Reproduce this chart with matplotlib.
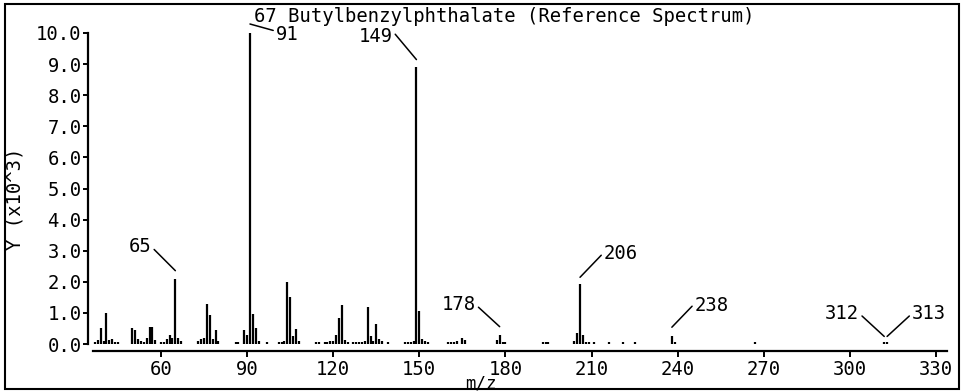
import matplotlib
matplotlib.use('Agg')
import matplotlib.pyplot as plt
from matplotlib.patches import Rectangle
import numpy as np

# spectrum of butylbenzylphthalate, intensity in units of 10^3
mz = [37, 38, 39, 40, 41, 42, 43, 44, 45,
      50, 51, 52, 53, 54, 55, 56, 57, 58, 60, 61,
      62, 63, 64, 65, 66, 67,
      73, 74, 75, 76, 77, 78, 79, 80,
      86, 87, 89, 90, 91, 92, 93, 94, 97, 101,
      102, 103, 104, 105, 106, 107, 108,
      114, 115, 117, 118, 119, 120, 121, 122, 123, 124, 125, 127, 128,
      129, 130, 131, 132, 133, 134, 135, 136, 137, 139,
      145, 146, 147, 148, 149, 150, 151, 152, 153,
      160, 161, 162, 163, 165, 166,
      177, 178, 179, 180,
      193, 194, 195,
      204, 205, 206, 207, 208, 209, 211,
      216, 221, 225, 238, 239, 267, 312, 313]
intensity = [0.06, 0.12, 0.5, 0.1, 1.0, 0.12, 0.15, 0.06, 0.05,
             0.5, 0.45, 0.15, 0.1, 0.06, 0.2, 0.55, 0.55, 0.12, 0.06, 0.05,
             0.15, 0.28, 0.2, 2.1, 0.2, 0.1,
             0.1, 0.15, 0.18, 1.3, 0.93, 0.15, 0.45, 0.1,
             0.06, 0.06, 0.45, 0.3, 10.0, 0.95, 0.5, 0.1, 0.05, 0.05,
             0.06, 0.1, 1.98, 1.5, 0.25, 0.47, 0.1,
             0.05, 0.06, 0.05, 0.06, 0.1, 0.1, 0.3, 0.82, 1.25, 0.12, 0.06, 0.05, 0.05,
             0.06, 0.06, 0.1, 1.2, 0.25, 0.1, 0.63, 0.15, 0.1, 0.05,
             0.06, 0.06, 0.08, 0.1, 8.92, 1.06, 0.15, 0.1, 0.05,
             0.05, 0.06, 0.06, 0.1, 0.2, 0.12,
             0.12, 0.3, 0.06, 0.05,
             0.05, 0.08, 0.05,
             0.1, 0.35, 1.92, 0.28, 0.06, 0.06, 0.05,
             0.05, 0.05, 0.05, 0.25, 0.06, 0.05, 0.05, 0.05]

# labelled peaks
labels = ['65', '91', '149', '178', '206', '238', '312', '313']
label_mz = [65, 91, 149, 178, 206, 238, 312, 313]
label_dx = [-24, 26, -24, -24, 24, 23, -25, 25]      # pixels from leader end
label_dy = [24, -11, 23, 22, 24, 22, 23, 23]
label_gap = [8, 9, 7, 8, 7, 9, 6, 6]                 # pixels above peak top
label_rel = [0.5, 0.7, 0.8, 0.5, 0.55, 0.6, 0.5, 0.5]

font = 'DejaVu Sans Mono'
plt.rcParams['font.family'] = font
fs = 13.6

fig = plt.figure(figsize=(9.64, 3.92), dpi=100)
W, H = 964, 392
ax = fig.add_axes([88 / W, (H - 344) / H, (947 - 88) / W, (344 - 33) / H])

ax.vlines(mz, 0, intensity, color='black', lw=1.6)

ax.set_xlim(34.56, 333.87)
ax.set_ylim(0, 10)
ax.set_xticks(np.arange(60, 331, 30))
ax.set_yticks(np.arange(0, 10.1, 1))
ax.set_yticklabels(['%.1f' % v for v in np.arange(0, 10.1, 1)])

for s in ['top', 'right']:
    ax.spines[s].set_visible(False)
ax.spines['left'].set_bounds(0, 10)
ax.spines['left'].set_linewidth(1.6)
ax.spines['bottom'].set_position(('outward', 5))
ax.spines['bottom'].set_bounds(36.3, 333.87)
ax.spines['bottom'].set_linewidth(1.6)

ax.tick_params(axis='y', length=3.6, width=1.4, pad=1, labelsize=fs)
ax.tick_params(axis='x', length=4.3, width=1.4, pad=2, labelsize=fs)

px_per_unit = 311 / 10.0
ymap = dict(zip(mz, intensity))
for t, m, dx, dy, g, r in zip(labels, label_mz, label_dx, label_dy, label_gap, label_rel):
    ha = 'right' if dx < 0 else 'left'
    rel = (1, r) if dx < 0 else (0, r)
    ax.annotate(t, xy=(m, ymap[m] + g / px_per_unit), xytext=(dx, dy),
                textcoords='offset pixels', ha=ha, va='center', fontsize=fs,
                annotation_clip=False,
                arrowprops=dict(arrowstyle='-', color='black', lw=1.1,
                                shrinkA=0, shrinkB=0, relpos=rel))

fig.text(504 / W, 1 - 16 / H, '67 Butylbenzylphthalate (Reference Spectrum)',
         ha='center', va='center', fontsize=fs)
fig.text(15 / W, 1 - 199 / H, 'Y (x10^3)', rotation=90, ha='center', va='center', fontsize=fs)
fig.text(481 / W, 1 - 384 / H, 'm/z', ha='center', va='center', fontsize=12.5)

fig.add_artist(Rectangle((5 / W, 3 / H), 954 / W, 385 / H, transform=fig.transFigure,
                         fill=False, lw=1.5, color='black'))

fig.savefig('out.png', dpi=100)
